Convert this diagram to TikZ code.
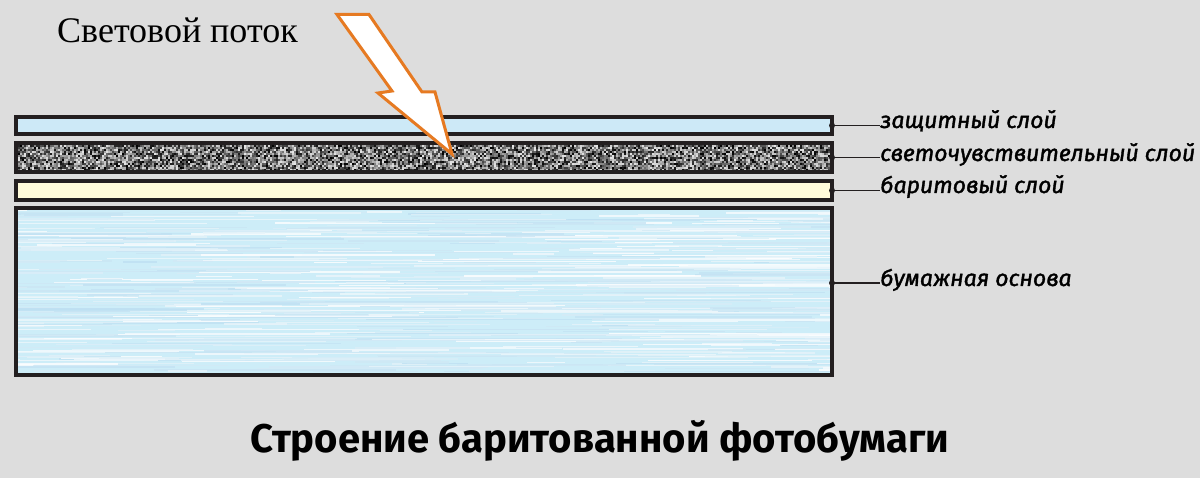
\documentclass[tikz,border=0pt]{standalone}
\usepackage{fontspec}
\setmainfont{Liberation Serif}
\newfontfamily\lblfont[ItalicFeatures={FakeBold=1.6}]{Fira Sans}
\newfontfamily\ttlfont{Fira Sans}
\definecolor{bg}{HTML}{DDDDDD}
\definecolor{edge}{HTML}{231F20}
\definecolor{protfill}{HTML}{CDE9F7}
\definecolor{barfill}{HTML}{FFFBDA}
\definecolor{basefill}{HTML}{CDEDF8}
\definecolor{streak}{HTML}{A3D3EC}
\definecolor{orangeline}{HTML}{E67A22}
\tikzset{
  layer/.style={draw=edge, line width=4pt, minimum width=816pt, inner sep=0pt, outer sep=0pt},
  lbl/.style={anchor=base west, inner sep=0pt, font=\lblfont\itshape\fontsize{23}{25}\selectfont},
  lead/.style={draw=edge, line width=1.3pt},
  dotmark/.style={circle, fill=edge, minimum size=6pt, inner sep=0pt},
  beam/.style={draw=orangeline, line width=3pt, fill=white, line join=miter}
}
\begin{document}
\begin{tikzpicture}[x=1pt,y=-1pt]
\useasboundingbox (0,0) rectangle (1200,478);
\fill[bg] (0,0) rectangle (1200,478);

% layers
\node[layer, fill=protfill, minimum height=17pt] (prot) at (424,125.5) {};
\node[layer, fill=gray, minimum height=29pt] (sens) at (424,157.5) {};
\node[layer, fill=barfill, minimum height=19pt] (bar) at (424,190.5) {};
\node[layer, fill=basefill, minimum height=167pt] (base) at (424,291.5) {};

% noise texture of the light-sensitive layer
\pgfmathsetseed{7}
\begin{scope}
\clip (18,143.5) rectangle (830,171.5);
\foreach \i in {0,...,406}{
  \foreach \j in {0,...,14}{
    \pgfmathrandominteger{\g}{10}{100}
    \fill[black!\g!white] (18+2*\i,143.5+2*\j) rectangle ++(2,2);
  }
}
\end{scope}

% streak texture of the paper base
\begin{scope}
\clip (18,209.5) rectangle (830,373.5);
\foreach \k in {1,...,700}{
  \pgfmathsetmacro{\yy}{209+rnd*166}
  \pgfmathsetmacro{\xx}{-100+rnd*930}
  \pgfmathsetmacro{\ll}{30+rnd*220}
  \pgfmathrandominteger{\c}{0}{70}
  \fill[streak!\c!white, opacity=0.8] (\xx,\yy) rectangle ++(\ll,1.3);
}
\end{scope}
% redraw borders on top
\draw[draw=edge, line width=4pt] (prot.south west) rectangle (prot.north east);
\draw[draw=edge, line width=4pt] (sens.south west) rectangle (sens.north east);
\draw[draw=edge, line width=4pt] (bar.south west) rectangle (bar.north east);
\draw[draw=edge, line width=4pt] (base.south west) rectangle (base.north east);

% labels
\node[lbl] (lprot) at (880,128) {защитный слой};
\node[lbl] (lsens) at (880,161) {светочувствительный слой};
\node[lbl] (lbar) at (880,193) {баритовый слой};
\node[lbl] (lbase) at (880,286) {бумажная основа};

\draw[lead] (prot.east) -- (prot.east -| lprot.west);
\draw[lead] (sens.east) -- (sens.east -| lsens.west);
\draw[lead] (bar.east) -- (bar.east -| lbar.west);
\draw[lead] (base.east |- 0,283) -- (lbase.west |- 0,283);
\node[dotmark] (dprot) at (prot.east) {};
\node[dotmark] (dsens) at (sens.east) {};
\node[dotmark] (dbar) at (bar.east) {};
\node[dotmark] (dbase) at (base.east |- 0,283) {};

% light beam arrow
\draw[beam] (337,14.5) -- (369,14.5) -- (422,92) -- (435,92) -- (452,154) -- (378,93) -- (392,91) -- cycle;

\node[anchor=base west, inner sep=0pt, font=\fontsize{36}{40}\selectfont] (flux) at (57,43) {Световой поток};

\node[anchor=base, inner sep=0pt, font=\ttlfont\bfseries\fontsize{40}{44}\selectfont] (title) at (600,452) {Строение баритованной фотобумаги};
\end{tikzpicture}
\end{document}
